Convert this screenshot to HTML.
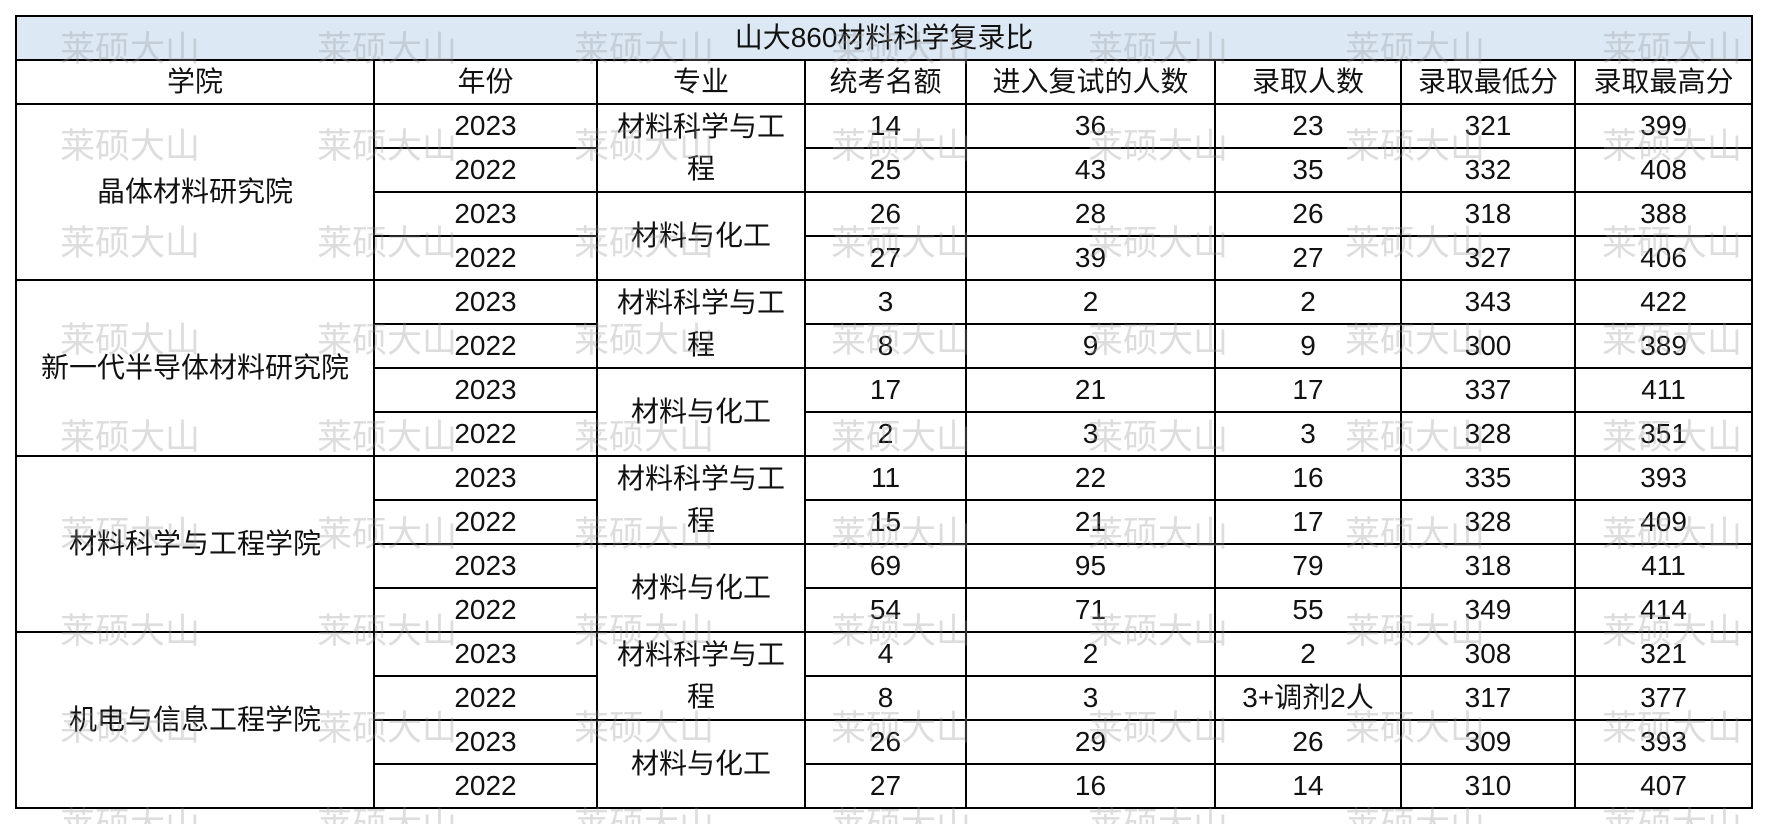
<!DOCTYPE html>
<html><head><meta charset="utf-8">
<style>
html,body{margin:0;padding:0;background:#fff;width:1766px;height:824px;overflow:hidden;position:relative;
font-family:"Liberation Sans","Noto Sans CJK SC",sans-serif;}
table{position:absolute;left:15px;top:15px;border-collapse:collapse;table-layout:fixed;width:1736px;}
tr{height:44px;}
td{border:2px solid #000;padding:0;text-align:center;font-size:28px;line-height:38px;color:#111;white-space:nowrap;overflow:hidden;}
td.t{background:#dce9f5;}
td.m{line-height:42px;}
.wm{position:absolute;font-size:35px;color:rgba(150,150,150,0.32);font-family:"Noto Sans CJK SC",sans-serif;line-height:1;white-space:nowrap;}
</style></head><body>
<table>
<colgroup><col style="width:358px"><col style="width:223px"><col style="width:208px"><col style="width:161px"><col style="width:249px"><col style="width:186px"><col style="width:174px"><col style="width:177px"></colgroup>
<tr><td class="t" colspan="8">山大860材料科学复录比</td></tr>
<tr><td>学院</td><td>年份</td><td>专业</td><td>统考名额</td><td>进入复试的人数</td><td>录取人数</td><td>录取最低分</td><td>录取最高分</td></tr>
<tr><td rowspan="4">晶体材料研究院</td><td>2023</td><td rowspan="2" class="m">材料科学与工<br>程</td><td>14</td><td>36</td><td>23</td><td>321</td><td>399</td></tr>
<tr><td>2022</td><td>25</td><td>43</td><td>35</td><td>332</td><td>408</td></tr>
<tr><td>2023</td><td rowspan="2">材料与化工</td><td>26</td><td>28</td><td>26</td><td>318</td><td>388</td></tr>
<tr><td>2022</td><td>27</td><td>39</td><td>27</td><td>327</td><td>406</td></tr>
<tr><td rowspan="4">新一代半导体材料研究院</td><td>2023</td><td rowspan="2" class="m">材料科学与工<br>程</td><td>3</td><td>2</td><td>2</td><td>343</td><td>422</td></tr>
<tr><td>2022</td><td>8</td><td>9</td><td>9</td><td>300</td><td>389</td></tr>
<tr><td>2023</td><td rowspan="2">材料与化工</td><td>17</td><td>21</td><td>17</td><td>337</td><td>411</td></tr>
<tr><td>2022</td><td>2</td><td>3</td><td>3</td><td>328</td><td>351</td></tr>
<tr><td rowspan="4">材料科学与工程学院</td><td>2023</td><td rowspan="2" class="m">材料科学与工<br>程</td><td>11</td><td>22</td><td>16</td><td>335</td><td>393</td></tr>
<tr><td>2022</td><td>15</td><td>21</td><td>17</td><td>328</td><td>409</td></tr>
<tr><td>2023</td><td rowspan="2">材料与化工</td><td>69</td><td>95</td><td>79</td><td>318</td><td>411</td></tr>
<tr><td>2022</td><td>54</td><td>71</td><td>55</td><td>349</td><td>414</td></tr>
<tr><td rowspan="4">机电与信息工程学院</td><td>2023</td><td rowspan="2" class="m">材料科学与工<br>程</td><td>4</td><td>2</td><td>2</td><td>308</td><td>321</td></tr>
<tr><td>2022</td><td>8</td><td>3</td><td>3+调剂2人</td><td>317</td><td>377</td></tr>
<tr><td>2023</td><td rowspan="2">材料与化工</td><td>26</td><td>29</td><td>26</td><td>309</td><td>393</td></tr>
<tr><td>2022</td><td>27</td><td>16</td><td>14</td><td>310</td><td>407</td></tr>
</table>
<div id="w"></div>
<script>
var h='';var xs=[60,317,574,831,1088,1345,1602];
for(var r=0;r<9;r++){for(var c=0;c<7;c++){h+='<div class="wm" style="left:'+xs[c]+'px;top:'+(29+r*97)+'px">莱硕大山</div>';}}
document.getElementById('w').innerHTML=h;
</script>
</body></html>
